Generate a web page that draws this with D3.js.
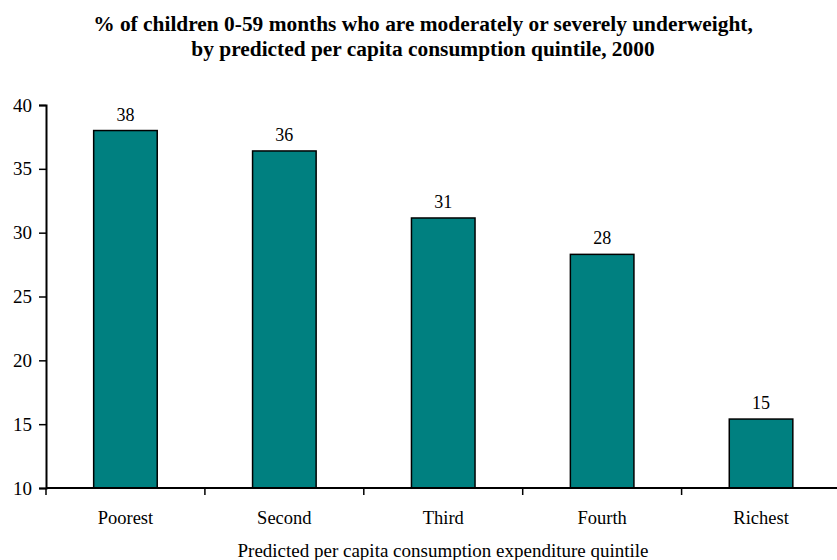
<!DOCTYPE html>
<html>
<head>
<meta charset="utf-8">
<script src="https://cdn.jsdelivr.net/npm/d3@7"></script>
<style>
  body { margin: 0; background: #fff; }
  svg { display: block; }
  svg text { font-family: "Liberation Serif", "Times New Roman", "DejaVu Serif", serif; fill: #000; }
</style>
</head>
<body>
<svg id="chart"></svg>
<script>
// data
var quintiles = ["Poorest", "Second", "Third", "Fourth", "Richest"];
var underweight = [38.0, 36.4, 31.15, 28.3, 15.4];
var barLabels = ["38", "36", "31", "28", "15"];
var yTicks = [10, 15, 20, 25, 30, 35, 40];

var w = 837;
var h = 560;

var svg = d3.select("#chart")
	.attr("width", w)
	.attr("height", h);

var x = d3.scaleBand()
	.domain(quintiles)
	.range([46, 840.5])
	.paddingInner(0.6)
	.paddingOuter(0.3);

var y = d3.scaleLinear()
	.domain([10, 40])
	.range([488, 105]);

// title
svg.append("text")
	.attr("x", 423)
	.attr("y", 31)
	.attr("text-anchor", "middle")
	.style("font-weight", "bold")
	.style("font-size", "21.4px")
	.selectAll("tspan")
	.data(["% of children 0-59 months who are moderately or severely underweight,",
		"by predicted per capita consumption quintile, 2000"])
	.join("tspan")
	.attr("x", 423)
	.attr("dy", function(d, i) { return i === 0 ? 0 : 25; })
	.text(function(d) { return d; });

// bars
svg.selectAll("rect.bar")
	.data(underweight)
	.join("rect")
	.attr("class", "bar")
	.attr("x", function(d, i) { return x(quintiles[i]); })
	.attr("y", function(d) { return y(d); })
	.attr("width", x.bandwidth())
	.attr("height", function(d) { return y(10) - y(d); })
	.attr("fill", "#008080")
	.attr("stroke", "#000")
	.attr("stroke-width", 1.5);

// value labels
svg.selectAll("text.val")
	.data(underweight)
	.join("text")
	.attr("class", "val")
	.attr("x", function(d, i) { return x(quintiles[i]) + x.bandwidth() / 2; })
	.attr("y", function(d) { return y(d) - 10; })
	.attr("text-anchor", "middle")
	.style("font-size", "18px")
	.text(function(d, i) { return barLabels[i]; });

// y axis
var yAxis = svg.append("g")
	.attr("transform", "translate(46,0)")
	.call(d3.axisLeft(y).tickValues(yTicks).tickSize(7).tickPadding(7));
yAxis.select(".domain").attr("stroke-width", 2);
yAxis.selectAll(".tick line").attr("stroke-width", 1.5);
yAxis.selectAll(".tick text")
	.style("font-size", "19px");

// x axis: ticks sit between the categories
var step = x.step();
var boundaries = d3.range(quintiles.length + 1).map(function(i) { return 46 + i * step; });
var xAxis = svg.append("g");
xAxis.append("line")
	.attr("x1", 46)
	.attr("x2", w)
	.attr("y1", y(10))
	.attr("y2", y(10))
	.attr("stroke", "#000")
	.attr("stroke-width", 2);
xAxis.selectAll("line.tk")
	.data(boundaries)
	.join("line")
	.attr("class", "tk")
	.attr("x1", function(d) { return d; })
	.attr("x2", function(d) { return d; })
	.attr("y1", y(10))
	.attr("y2", y(10) + 7)
	.attr("stroke", "#000")
	.attr("stroke-width", 1.5);
xAxis.selectAll("text")
	.data(quintiles)
	.join("text")
	.attr("x", function(d) { return x(d) + x.bandwidth() / 2; })
	.attr("y", 524)
	.attr("text-anchor", "middle")
	.style("font-size", "18.5px")
	.text(function(d) { return d; });

// x axis title
svg.append("text")
	.attr("x", 443)
	.attr("y", 557)
	.attr("text-anchor", "middle")
	.style("font-size", "19px")
	.text("Predicted per capita consumption expenditure quintile");
</script>
</body>
</html>
